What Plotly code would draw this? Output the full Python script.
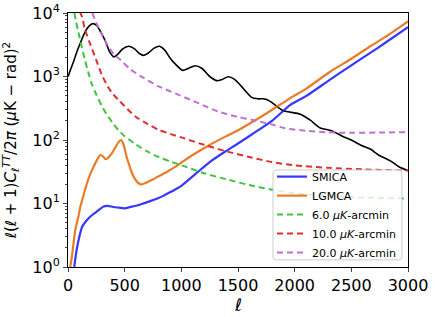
import plotly.graph_objects as go

# ---- data ----
ell_cmb = [2, 20, 50, 80, 110, 150, 185, 220, 255, 290, 330, 370, 405, 440, 480, 535, 590, 630,
           667, 710, 760, 808, 850, 900, 950, 1011, 1065, 1123, 1180, 1250, 1315, 1360, 1415,
           1470, 1530, 1620, 1680, 1726, 1780, 1840, 1900, 1960, 2050, 2138, 2226, 2326, 2420,
           2500, 2590, 2667, 2740, 2844, 2920, 3000]
dl_cmb = [1000, 1250, 1740, 2500, 3400, 5000, 6200, 6800, 6300, 5000, 3600, 2400, 2040, 2250,
          2700, 2990, 2700, 2300, 2150, 2350, 2800, 2990, 2650, 1960, 1550, 1250, 1350, 1480,
          1350, 1000, 860, 900, 990, 900, 700, 470, 445, 445, 410, 340, 290, 275, 255, 205, 155,
          140, 115, 100, 82, 72, 58, 47, 38, 33]

ell_smica = [55, 75, 100, 125, 160, 200, 256, 314, 350, 400, 450, 500, 550, 600, 650, 700, 750,
             800, 850, 900, 950, 1000, 1123, 1250, 1388, 1500, 1682, 1800, 1962, 2100, 2315,
             2500, 2667, 2800, 3000]
nl_smica = [1.0, 1.8, 3.0, 4.3, 5.3, 6.3, 7.5, 9.0, 9.2, 8.8, 8.6, 8.4, 8.8, 9.2, 9.8, 10.5,
            11.3, 12.2, 13.5, 15, 16.8, 19, 29, 45, 66, 88, 144, 200, 357, 490, 900, 1500, 2350,
            3400, 6000]

ell_lgmca = [20, 35, 64, 90, 109, 140, 168, 200, 226, 260, 285, 310, 329, 350, 388, 420, 450,
             470, 490, 520, 545, 565, 600, 640, 682, 740, 785, 850, 903, 950, 1000, 1100, 1241,
             1388, 1505, 1700, 1962, 2100, 2315, 2500, 2667, 2800, 3000]
nl_lgmca = [1.0, 1.5, 3.8, 6, 8.9, 14, 21, 30, 38, 50, 58, 55, 50, 52, 62, 78, 95, 100, 85, 52,
            38, 30, 23, 20, 21, 23.5, 26, 30, 34, 38, 44, 58, 82, 113, 144, 230, 457, 640, 1200,
            1900, 2990, 4200, 7400]

ell_w6 = [56, 70, 85, 100, 120, 150, 180, 210, 250, 300, 350, 400, 450, 500, 600, 700, 800, 900,
          1000, 1200, 1400, 1600, 1800, 2000, 2300, 2600, 3000]
nl_w6 = [10000, 7500, 5600, 4300, 3000, 1800, 1150, 760, 520, 340, 240, 180, 140, 115, 85, 66,
         54, 46, 40, 30, 24, 19.5, 16.5, 14.5, 13.2, 12.4, 12]

ell_w10 = [105, 125, 150, 200, 250, 300, 350, 400, 450, 500, 600, 700, 800, 900, 1000, 1200,
           1400, 1600, 1800, 2000, 2300, 2600, 3000]
nl_w10 = [10500, 8500, 5500, 3100, 1800, 1050, 700, 520, 420, 340, 230, 180, 145, 125, 110, 84,
          66, 54, 45, 40, 36.5, 34.5, 33]

ell_w20 = [215, 250, 300, 350, 400, 461, 550, 667, 800, 976, 1150, 1328, 1500, 1620, 1800, 1914,
           2100, 2297, 2500, 2750, 3000]
nl_w20 = [10000, 7000, 4500, 3100, 2300, 1840, 1300, 950, 700, 515, 380, 280, 230, 208, 175, 153,
          140, 132, 130, 131, 133]

y_tickvals = [1, 10, 100, 1000, 10000]
y_ticktext = ["10<sup>0</sup>", "10<sup>1</sup>", "10<sup>2</sup>", "10<sup>3</sup>", "10<sup>4</sup>"]
y_minor = [m * 10 ** k for k in range(4) for m in range(2, 10)]
x_tickvals = [0, 500, 1000, 1500, 2000, 2500, 3000]

FONT = "DejaVu Sans"

fig = go.Figure()
fig.add_trace(go.Scatter(x=ell_cmb, y=dl_cmb, mode="lines", showlegend=False,
                         line=dict(color="black", width=1.6, shape="spline", smoothing=0.8)))
fig.add_trace(go.Scatter(x=ell_smica, y=nl_smica, mode="lines", name="SMICA",
                         line=dict(color="rgba(20,20,255,0.85)", width=2.2, shape="spline", smoothing=0.6)))
fig.add_trace(go.Scatter(x=ell_lgmca, y=nl_lgmca, mode="lines", name="LGMCA",
                         line=dict(color="rgba(232,110,15,0.9)", width=2.2, shape="spline", smoothing=0.6)))
fig.add_trace(go.Scatter(x=ell_w6, y=nl_w6, mode="lines", name="6.0 <i>μK</i>-arcmin",
                         line=dict(color="#3ec43e", width=2, dash="6px,4px", shape="spline", smoothing=0.8)))
fig.add_trace(go.Scatter(x=ell_w10, y=nl_w10, mode="lines", name="10.0 <i>μK</i>-arcmin",
                         line=dict(color="#e02e2e", width=2, dash="6px,4px", shape="spline", smoothing=0.8)))
fig.add_trace(go.Scatter(x=ell_w20, y=nl_w20, mode="lines", name="20.0 <i>μK</i>-arcmin",
                         line=dict(color="#c070d0", width=2, dash="6px,4px", shape="spline", smoothing=0.8)))

# rounded legend frame (matplotlib style), drawn above the curves with partial transparency
x0, x1, y0, y1, rx, ry = 0.603, 0.982, 0.028, 0.382, 0.009, 0.012
frame_path = (f"M {x0+rx},{y0} L {x1-rx},{y0} Q {x1},{y0} {x1},{y0+ry} L {x1},{y1-ry} "
              f"Q {x1},{y1} {x1-rx},{y1} L {x0+rx},{y1} Q {x0},{y1} {x0},{y1-ry} "
              f"L {x0},{y0+ry} Q {x0},{y0} {x0+rx},{y0} Z")

fig.update_layout(
    width=436, height=317,
    margin=dict(l=68, r=28, t=13, b=50),
    paper_bgcolor="white", plot_bgcolor="white",
    font=dict(family=FONT, color="black", size=15),
    legend=dict(x=0.6, y=0.413, xanchor="left", yanchor="top",
                bgcolor="rgba(0,0,0,0)", borderwidth=0,
                font=dict(size=11, family=FONT), tracegroupgap=0, itemwidth=30),
    shapes=[dict(type="path", xref="paper", yref="paper", path=frame_path, layer="above",
                 fillcolor="rgba(255,255,255,0.8)", line=dict(color="#cccccc", width=1))],
    annotations=[dict(text="<i>ℓ</i>", xref="paper", yref="paper", x=0.5, y=0,
                      xanchor="center", yanchor="top", yshift=-26, showarrow=False,
                      font=dict(size=17, family=FONT))],
)
fig.update_xaxes(range=[0, 3000], tickvals=x_tickvals, ticks="outside", ticklen=4,
                 showline=True, linecolor="black", linewidth=1, mirror=True, showgrid=False,
                 zeroline=False, tickfont=dict(size=16), automargin=False,
                 ticklabeloverflow="allow")
fig.update_yaxes(type="log", range=[0, 4], tickvals=y_tickvals, ticktext=y_ticktext,
                 ticks="outside", ticklen=4, showline=True, linecolor="black", linewidth=1,
                 mirror=True, showgrid=False, zeroline=False, tickfont=dict(size=16),
                 automargin=False, ticklabeloverflow="allow",
                 minor=dict(tickmode="array", tickvals=y_minor, ticks="outside", ticklen=2,
                            showgrid=False),
                 title=dict(text="<i>ℓ</i>(<i>ℓ</i> + 1)<i>C</i><sub><i>ℓ</i></sub><sup><i>TT</i></sup>/2<i>π</i> (<i>μ</i>K − rad)<sup>2</sup>",
                            font=dict(size=15)))

# remove the default 8px page margin so the figure fills the window exactly
fig.write_html("out.html", config={"displayModeBar": False},
               post_script="document.body.style.margin='0';")
